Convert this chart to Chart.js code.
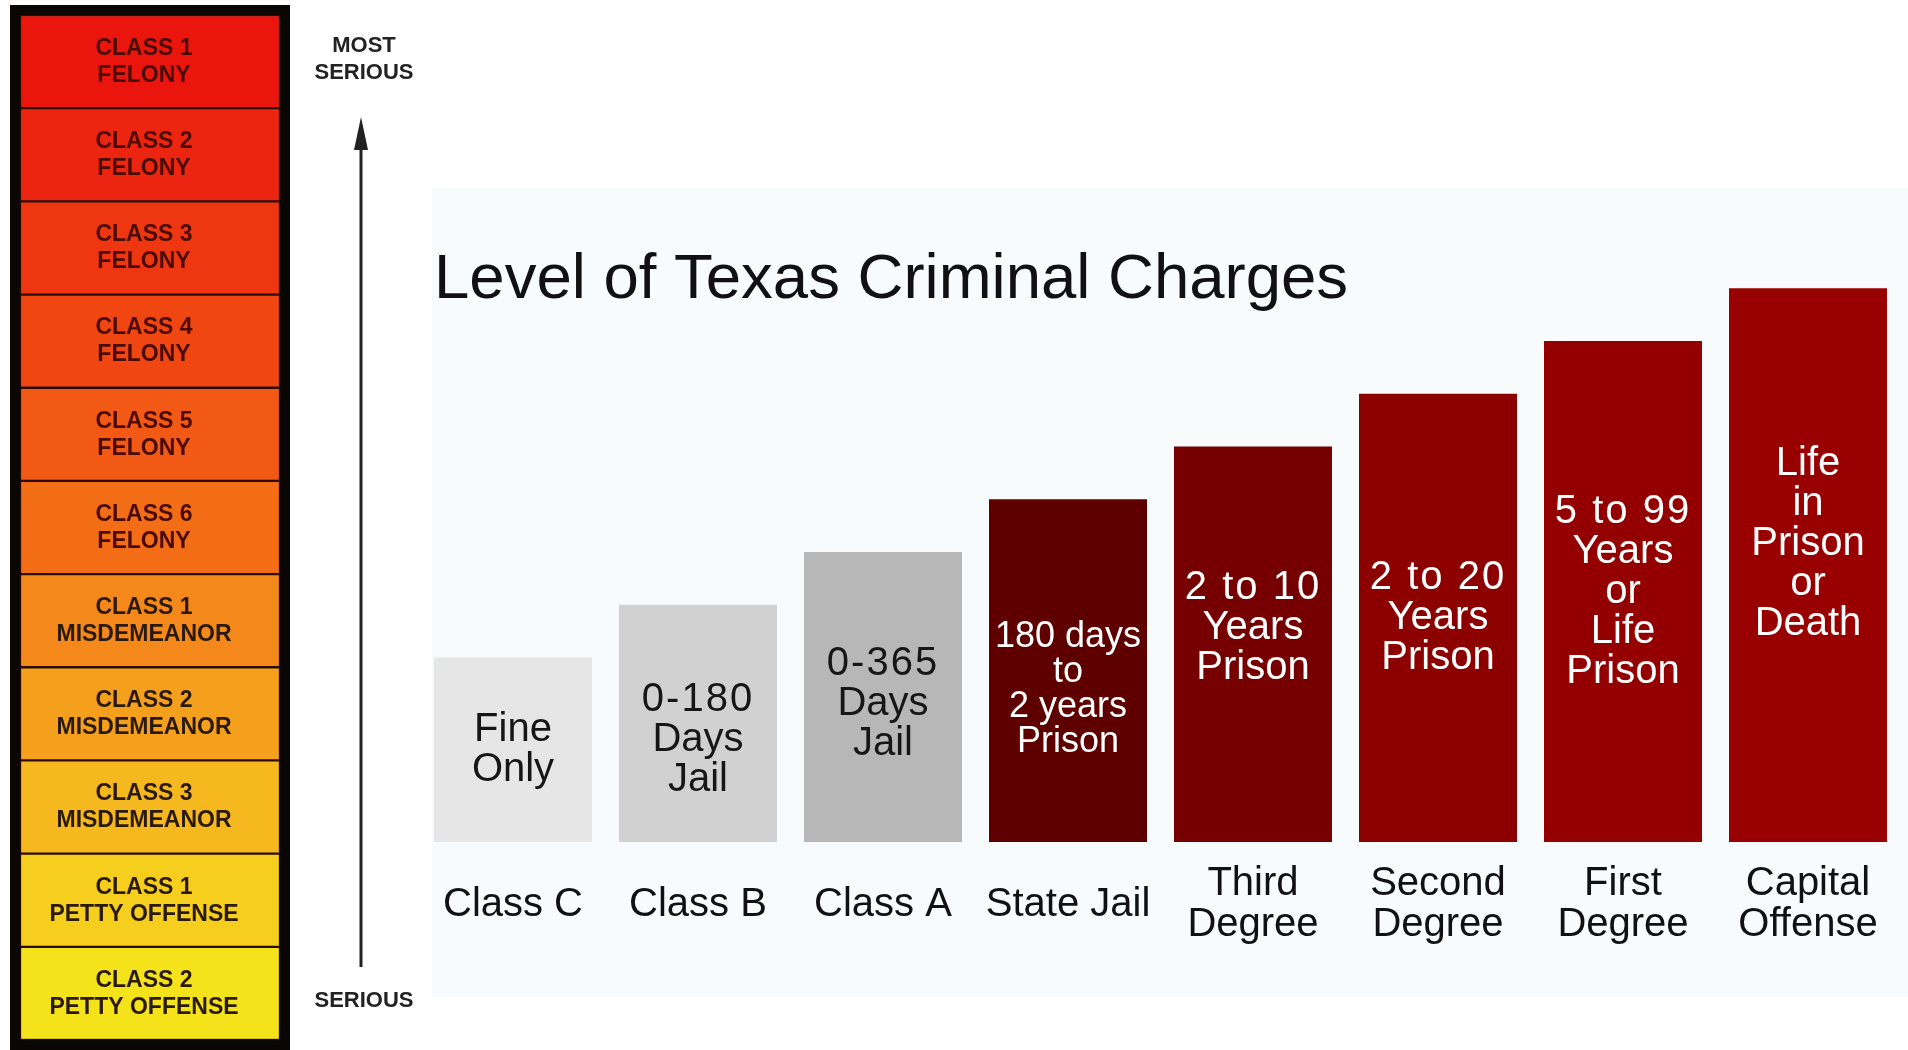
<!DOCTYPE html>
<html>
<head>
<meta charset="utf-8">
<title>Level of Texas Criminal Charges</title>
<script src="https://cdn.jsdelivr.net/npm/chart.js@4.4.1/dist/chart.umd.min.js"></script>
<style>
  html, body { margin: 0; padding: 0; background: #fff; }
  #wrap { position: relative; width: 1908px; height: 1050px; overflow: hidden; }
  #wrap canvas { position: absolute; left: 0; top: 0; }
</style>
</head>
<body>
<div id="wrap">
  <canvas id="levels" width="1908" height="1050"></canvas>
  <canvas id="ladder" width="420" height="1050"></canvas>
</div>
<script>
// --- data ---
const chartTitle = 'Level of Texas Criminal Charges';
const categories = [['Class C'], ['Class B'], ['Class A'], ['State Jail'],
  ['Third', 'Degree'], ['Second', 'Degree'], ['First', 'Degree'], ['Capital', 'Offense']];
const severity = [1, 2, 3, 4, 5, 6, 7, 8];
const penalties = [
  ['Fine', 'Only'],
  ['0-180', 'Days', 'Jail'],
  ['0-365', 'Days', 'Jail'],
  ['180 days', 'to', '2 years', 'Prison'],
  ['2 to 10', 'Years', 'Prison'],
  ['2 to 20', 'Years', 'Prison'],
  ['5 to 99', 'Years', 'or', 'Life', 'Prison'],
  ['Life', 'in', 'Prison', 'or', 'Death']
];

// ladder, most serious first
const ladderClasses = ['CLASS 1', 'CLASS 2', 'CLASS 3', 'CLASS 4', 'CLASS 5', 'CLASS 6',
  'CLASS 1', 'CLASS 2', 'CLASS 3', 'CLASS 1', 'CLASS 2'];
const ladderKinds = ['FELONY', 'FELONY', 'FELONY', 'FELONY', 'FELONY', 'FELONY',
  'MISDEMEANOR', 'MISDEMEANOR', 'MISDEMEANOR', 'PETTY OFFENSE', 'PETTY OFFENSE'];
const ladderSteps = [1, 1, 1, 1, 1, 1, 1, 1, 1, 1, 1];

// --- styles ---
const barColors = ['#e6e6e6', '#d1d1d1', '#b7b7b7', '#5e0000', '#760000', '#8c0000', '#940000', '#990000'];
const barTextColors = ['#161616', '#161616', '#161616', '#fff', '#fff', '#fff', '#fff', '#fff'];
const textShift = [0, 17, 7, 19, -16, 0, 0, -21];
const ladderColors = ['#ea160e', '#ec2510', '#ee3611', '#f04712', '#f25914', '#f36d16',
  '#f4881a', '#f5a01c', '#f5b81e', '#f5ce1e', '#f4e21a'];
const FONT = "'Liberation Sans', Arial, Helvetica, sans-serif";

const panelPlugin = {
  id: 'panel',
  beforeDraw(chart) {
    const ctx = chart.ctx;
    ctx.save();
    ctx.fillStyle = '#f8fbfc';
    ctx.fillRect(432, 188, 1476, 809);
    ctx.restore();
  },
  afterDatasetsDraw(chart) {
    const ctx = chart.ctx;
    ctx.save();
    ctx.fillStyle = '#111';
    ctx.font = '63.5px ' + FONT;
    ctx.textAlign = 'left';
    ctx.textBaseline = 'alphabetic';
    ctx.fillText(chartTitle, 434, 298);

    const meta = chart.getDatasetMeta(0);
    meta.data.forEach((bar, i) => {
      const lines = penalties[i];
      const small = lines.length === 4;
      const size = small ? 36 : 40;
      const lh = small ? 35 : 40;
      const mid = (bar.y + bar.base) / 2 + textShift[i];
      ctx.font = size + 'px ' + FONT;
      ctx.fillStyle = barTextColors[i];
      ctx.textAlign = 'center';
      ctx.textBaseline = 'middle';
      const y0 = mid - (lines.length - 1) * lh / 2;
      lines.forEach((t, k) => {
        ctx.letterSpacing = (!small && /\d/.test(t)) ? '2px' : '0px';
        ctx.fillText(t, bar.x, y0 + k * lh);
      });
    });
    ctx.restore();
  }
};

new Chart(document.getElementById('levels'), {
  type: 'bar',
  data: {
    labels: categories,
    datasets: [{
      data: severity,
      base: -2.5,
      backgroundColor: barColors,
      borderWidth: 0,
      categoryPercentage: 1,
      barPercentage: 0.854
    }]
  },
  options: {
    responsive: false,
    animation: false,
    layout: { padding: { left: 420.5, right: 7.5, top: 51, bottom: 0 } },
    plugins: { legend: { display: false }, tooltip: { enabled: false } },
    scales: {
      y: { display: false, min: -2.5, max: 12.5 },
      x: {
        grid: { display: false, drawTicks: false },
        border: { display: false },
        afterFit(s) {
          s.height = 208;
          s.paddingLeft = 0;
          s.paddingRight = 0;
        },
        ticks: {
          color: '#111',
          font: { family: FONT, size: 40, lineHeight: 1.03 },
          padding: 42,
          maxRotation: 0,
          autoSkip: false,
          crossAlign: 'center'
        }
      }
    }
  },
  plugins: [panelPlugin]
});

// ladder of offense classes with frame, arrow and captions
const ladderPlugin = {
  id: 'ladderDeco',
  afterDatasetsDraw(chart) {
    const ctx = chart.ctx;
    const area = chart.chartArea;
    ctx.save();
    chart.data.datasets.forEach((ds, i) => {
      const el = chart.getDatasetMeta(i).data[0];
      const mid = (el.y + el.base) / 2;
      ctx.font = 'bold 23px ' + FONT;
      ctx.fillStyle = i < 6 ? '#4a0b05' : '#2a1a0c';
      ctx.textAlign = 'center';
      ctx.textBaseline = 'middle';
      ctx.fillText(ladderClasses[i], el.x - 6, mid - 13);
      ctx.fillText(ladderKinds[i], el.x - 6, mid + 14);
    });
    // frame
    ctx.strokeStyle = '#0a0604';
    ctx.lineWidth = 10;
    ctx.strokeRect(area.left - 5, area.top - 5, area.right - area.left + 10, area.bottom - area.top + 10);
    // arrow
    const ax = 361;
    ctx.strokeStyle = '#222';
    ctx.fillStyle = '#222';
    ctx.lineWidth = 3;
    ctx.beginPath();
    ctx.moveTo(ax, 967);
    ctx.lineTo(ax, 140);
    ctx.stroke();
    ctx.beginPath();
    ctx.moveTo(ax, 117);
    ctx.lineTo(ax - 7, 150);
    ctx.lineTo(ax + 7, 150);
    ctx.closePath();
    ctx.fill();
    ctx.font = 'bold 22px ' + FONT;
    ctx.textAlign = 'center';
    ctx.textBaseline = 'middle';
    ctx.fillText('MOST', 364, 46);
    ctx.fillText('SERIOUS', 364, 73);
    ctx.fillText('SERIOUS', 364, 1001);
    ctx.restore();
  }
};

new Chart(document.getElementById('ladder'), {
  type: 'bar',
  data: {
    labels: ['rank'],
    datasets: ladderSteps.map((v, i) => ({
      label: ladderClasses[i] + ' ' + ladderKinds[i],
      data: [v],
      backgroundColor: ladderColors[i],
      borderColor: '#2a0c04',
      borderWidth: 1.5,
      borderSkipped: false,
      categoryPercentage: 1,
      barPercentage: 1
    }))
  },
  options: {
    responsive: false,
    animation: false,
    layout: { padding: { left: 20, right: 140, top: 15, bottom: 10 } },
    plugins: { legend: { display: false }, tooltip: { enabled: false } },
    scales: {
      x: { display: false, stacked: true },
      y: { display: false, stacked: true, reverse: true, min: 0, max: 11 }
    }
  },
  plugins: [ladderPlugin]
});
</script>
</body>
</html>
